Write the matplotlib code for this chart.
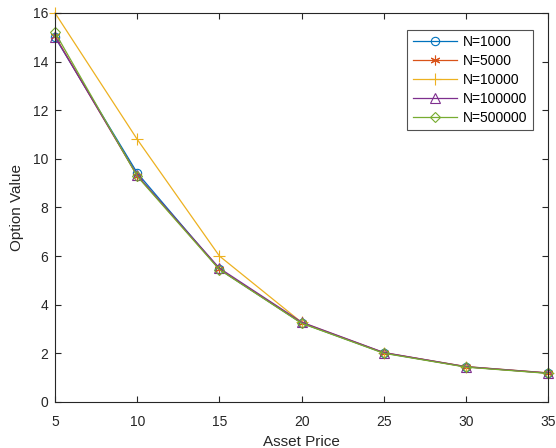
import matplotlib
matplotlib.use("Agg")
import matplotlib.pyplot as plt

plt.rcParams['font.family'] = ['Liberation Sans', 'DejaVu Sans']

asset_price = [5, 10, 15, 20, 25, 30, 35]
labels = ["N=1000", "N=5000", "N=10000", "N=100000", "N=500000"]
v1000 = [15.0, 9.42, 5.45, 3.24, 2.01, 1.44, 1.18]
v5000 = [15.05, 9.3, 5.46, 3.25, 2.02, 1.44, 1.18]
v10000 = [16.0, 10.8, 6.0, 3.27, 2.02, 1.45, 1.19]
v100000 = [15.02, 9.32, 5.5, 3.28, 2.03, 1.45, 1.19]
v500000 = [15.2, 9.28, 5.44, 3.23, 2.0, 1.43, 1.17]
series = [v1000, v5000, v10000, v100000, v500000]

colors = ['#0072BD', '#D95319', '#EDB120', '#7E2F8E', '#77AC30']
markers = ['o', (6, 2, 0), '+', '^', 'D']
msizes = [6, 7, 8, 7, 5]

fig = plt.figure(figsize=(5.56, 4.48), dpi=100)
ax = fig.add_axes([0.099, 0.103, 0.887, 0.868])
for vals, lab, c, m, ms in zip(series, labels, colors, markers, msizes):
    ax.plot(asset_price, vals, color=c, marker=m, markersize=ms,
            markerfacecolor='none', markeredgecolor=c, linewidth=0.9,
            markeredgewidth=0.8, label=lab, clip_on=False)

ax.set_xlim(5, 35)
ax.set_ylim(0, 16)
ax.set_xticks([5, 10, 15, 20, 25, 30, 35])
ax.set_yticks([0, 2, 4, 6, 8, 10, 12, 14, 16])
ax.tick_params(direction='in', top=True, right=True, labelsize=10, colors='#262626', length=4)
ax.tick_params(axis='x', pad=9.5)
ax.tick_params(axis='y', pad=5)
for s in ax.spines.values():
    s.set_color('#262626')
    s.set_linewidth(0.8)
ax.set_xlabel('Asset Price', fontsize=11, color='#262626', labelpad=4)
ax.set_ylabel('Option Value', fontsize=11, color='#262626', labelpad=6)
leg = ax.legend(loc='upper right', bbox_to_anchor=(0.983, 0.975), fancybox=False,
                edgecolor='#262626', fontsize=10, handlelength=3.2,
                borderpad=0.4, labelspacing=0.35, handletextpad=0.4)
leg.get_frame().set_linewidth(0.8)
fig.savefig('out.png', dpi=100)
